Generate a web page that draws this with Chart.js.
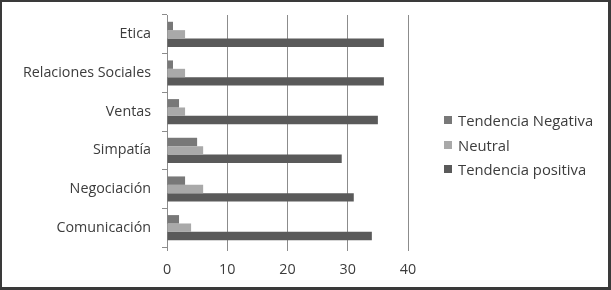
<!DOCTYPE html>
<html>
<head>
<meta charset="utf-8">
<script src="https://cdn.jsdelivr.net/npm/chart.js@4"></script>
<style>
  html, body { margin: 0; padding: 0; background: #fff; }
  .frame {
    box-sizing: border-box;
    width: 611px; height: 290px;
    border-style: solid;
    border-color: #3a3a3a;
    border-width: 2px 3px 3px 2px;
    position: relative;
  }
  .frame canvas { display: block; }
  .legend {
    position: absolute;
    left: 442px; top: 106px;
    font: 14.8px "Open Sans", sans-serif;
    color: #3c3c3c;
  }
  .legend div { height: 24.5px; display: flex; align-items: center; white-space: nowrap; }
  .legend span { display: inline-block; width: 8px; height: 8px; margin-right: 6px; }
</style>
</head>
<body>
<div class="frame"><canvas id="skillsChart"></canvas><div class="legend" id="legend"></div></div>
<script>
// =============================
// DATA
// =============================
const categories = ['Etica', 'Relaciones Sociales', 'Ventas', 'Simpatía', 'Negociación', 'Comunicación'];
const seriesNames = ['Tendencia Negativa', 'Neutral', 'Tendencia positiva'];
const negativa = [1, 1, 2, 5, 3, 2];
const neutral = [3, 3, 3, 6, 6, 4];
const positiva = [36, 36, 35, 29, 31, 34];
const xTicks = [0, 10, 20, 30, 40];

const textColor = '#3c3c3c';
const lineColor = '#8c8c8c';
const fontFamily = '"Open Sans", sans-serif';

// =============================
// BAR CHART
// =============================
const ctx = document.getElementById('skillsChart');
const chart = new Chart(ctx, {
    type: 'bar',
    data: {
        labels: categories,
        datasets: [
            { label: seriesNames[0], data: negativa, backgroundColor: '#787878' },
            { label: seriesNames[1], data: neutral, backgroundColor: '#a9a9a9' },
            { label: seriesNames[2], data: positiva, backgroundColor: '#5a5a5a' }
        ]
    },
    options: {
        indexAxis: 'y',
        responsive: true,
        maintainAspectRatio: false,
        animation: false,
        categoryPercentage: 0.65,
        barPercentage: 1,
        layout: { padding: { top: 13, left: 0, right: 200, bottom: 0 } },
        scales: {
            x: {
                min: xTicks[0],
                max: xTicks[xTicks.length - 1],
                afterBuildTicks: s => { s.ticks = xTicks.map(v => ({ value: v })); },
                afterFit: s => { s.height = 40; },
                grid: { color: lineColor, tickColor: lineColor, tickLength: 4 },
                border: { display: false },
                ticks: { color: textColor, padding: 10, font: { family: fontFamily, size: 14.3 } }
            },
            y: {
                afterFit: s => { s.width = 165; s.paddingTop = 0; s.paddingBottom = 0; },
                grid: { drawOnChartArea: false, color: lineColor, tickColor: lineColor, tickLength: 5 },
                border: { display: true, color: lineColor },
                ticks: { color: textColor, padding: 11, font: { family: fontFamily, size: 14.3 } }
            }
        },
        plugins: {
            tooltip: { enabled: false },
            legend: { display: false }
        }
    }
});

// =============================
// LEGEND
// =============================
const legend = document.getElementById('legend');
chart.data.datasets.forEach(ds => {
    const row = document.createElement('div');
    const box = document.createElement('span');
    box.style.background = ds.backgroundColor;
    row.appendChild(box);
    row.appendChild(document.createTextNode(ds.label));
    legend.appendChild(row);
});
</script>
</body>
</html>
